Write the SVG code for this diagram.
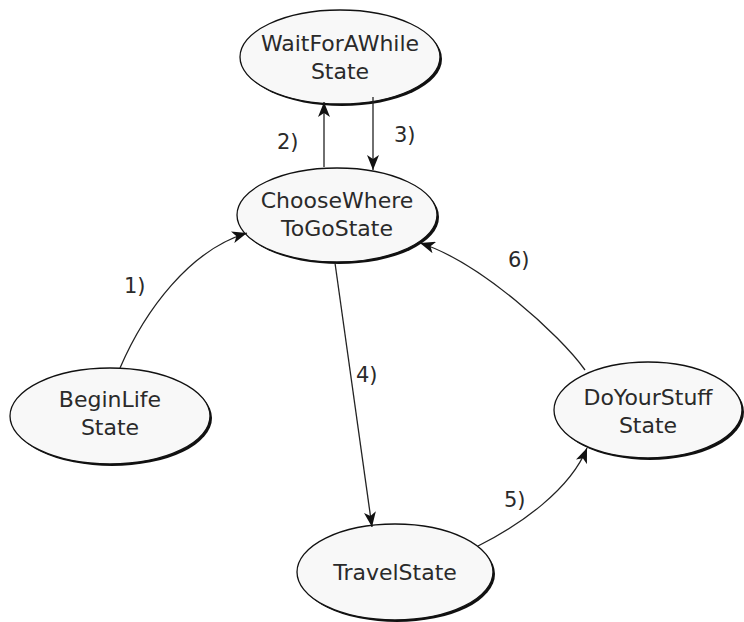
<svg xmlns="http://www.w3.org/2000/svg" width="744" height="622" viewBox="0 0 744 622">
  <style>
    .shadow { fill: #111; }
    .state { fill: #f8f8f8; stroke: #111; stroke-width: 1.3; }
    .label { font-family: "DejaVu Sans", Verdana, sans-serif; font-size: 22px; fill: #2a2a2a; text-anchor: middle; }
    .edge { fill: none; stroke: #222; stroke-width: 1.3; marker-end: url(#arrow); }
    .elabel { font-family: "DejaVu Sans", Verdana, sans-serif; font-size: 21px; fill: #2a2a2a; }
  </style>
  <defs>
    <marker id="arrow" markerUnits="userSpaceOnUse" markerWidth="16" markerHeight="12" refX="15" refY="6" orient="auto">
      <path d="M0,0 L15,6 L0,12 L4,6 z" fill="#111"/>
    </marker>
  </defs>

  <rect width="744" height="622" fill="#ffffff"/>

  <!-- states -->
  <g id="wait">
    <ellipse class="shadow" cx="342" cy="59" rx="100" ry="47"/>
    <ellipse class="state" cx="340" cy="57" rx="100" ry="47"/>
    <text class="label" x="340" y="51">WaitForAWhile</text>
    <text class="label" x="340" y="79">State</text>
  </g>
  <g id="choose">
    <ellipse class="shadow" cx="339" cy="217" rx="100" ry="47"/>
    <ellipse class="state" cx="337" cy="215" rx="100" ry="47"/>
    <text class="label" x="337" y="208">ChooseWhere</text>
    <text class="label" x="337" y="236">ToGoState</text>
  </g>
  <g id="begin">
    <ellipse class="shadow" cx="112" cy="418" rx="100" ry="48"/>
    <ellipse class="state" cx="110" cy="416" rx="100" ry="48"/>
    <text class="label" x="110" y="407">BeginLife</text>
    <text class="label" x="110" y="435">State</text>
  </g>
  <g id="travel">
    <ellipse class="shadow" cx="397" cy="574" rx="98" ry="48"/>
    <ellipse class="state" cx="395" cy="572" rx="98" ry="48"/>
    <text class="label" x="395" y="580">TravelState</text>
  </g>
  <g id="doyourstuff">
    <ellipse class="shadow" cx="650" cy="412" rx="94" ry="48"/>
    <ellipse class="state" cx="648" cy="410" rx="94" ry="48"/>
    <text class="label" x="648" y="405">DoYourStuff</text>
    <text class="label" x="648" y="433">State</text>
  </g>

  <!-- transitions -->
  <g id="connectors">
    <path class="edge" d="M120,368 C145,310 190,250 247,233"/>
    <path class="edge" d="M324,167 L324,102"/>
    <path class="edge" d="M373,97 L373,170"/>
    <path class="edge" d="M335,263 L372,527"/>
    <path class="edge" d="M478,546 C520,525 570,490 587,448"/>
    <path class="edge" d="M585,370 C560,335 480,262 420,243"/>
    <text class="elabel" x="124" y="293">1)</text>
    <text class="elabel" x="277" y="149">2)</text>
    <text class="elabel" x="394" y="142">3)</text>
    <text class="elabel" x="356" y="382">4)</text>
    <text class="elabel" x="504" y="507">5)</text>
    <text class="elabel" x="508" y="267">6)</text>
  </g>
</svg>
